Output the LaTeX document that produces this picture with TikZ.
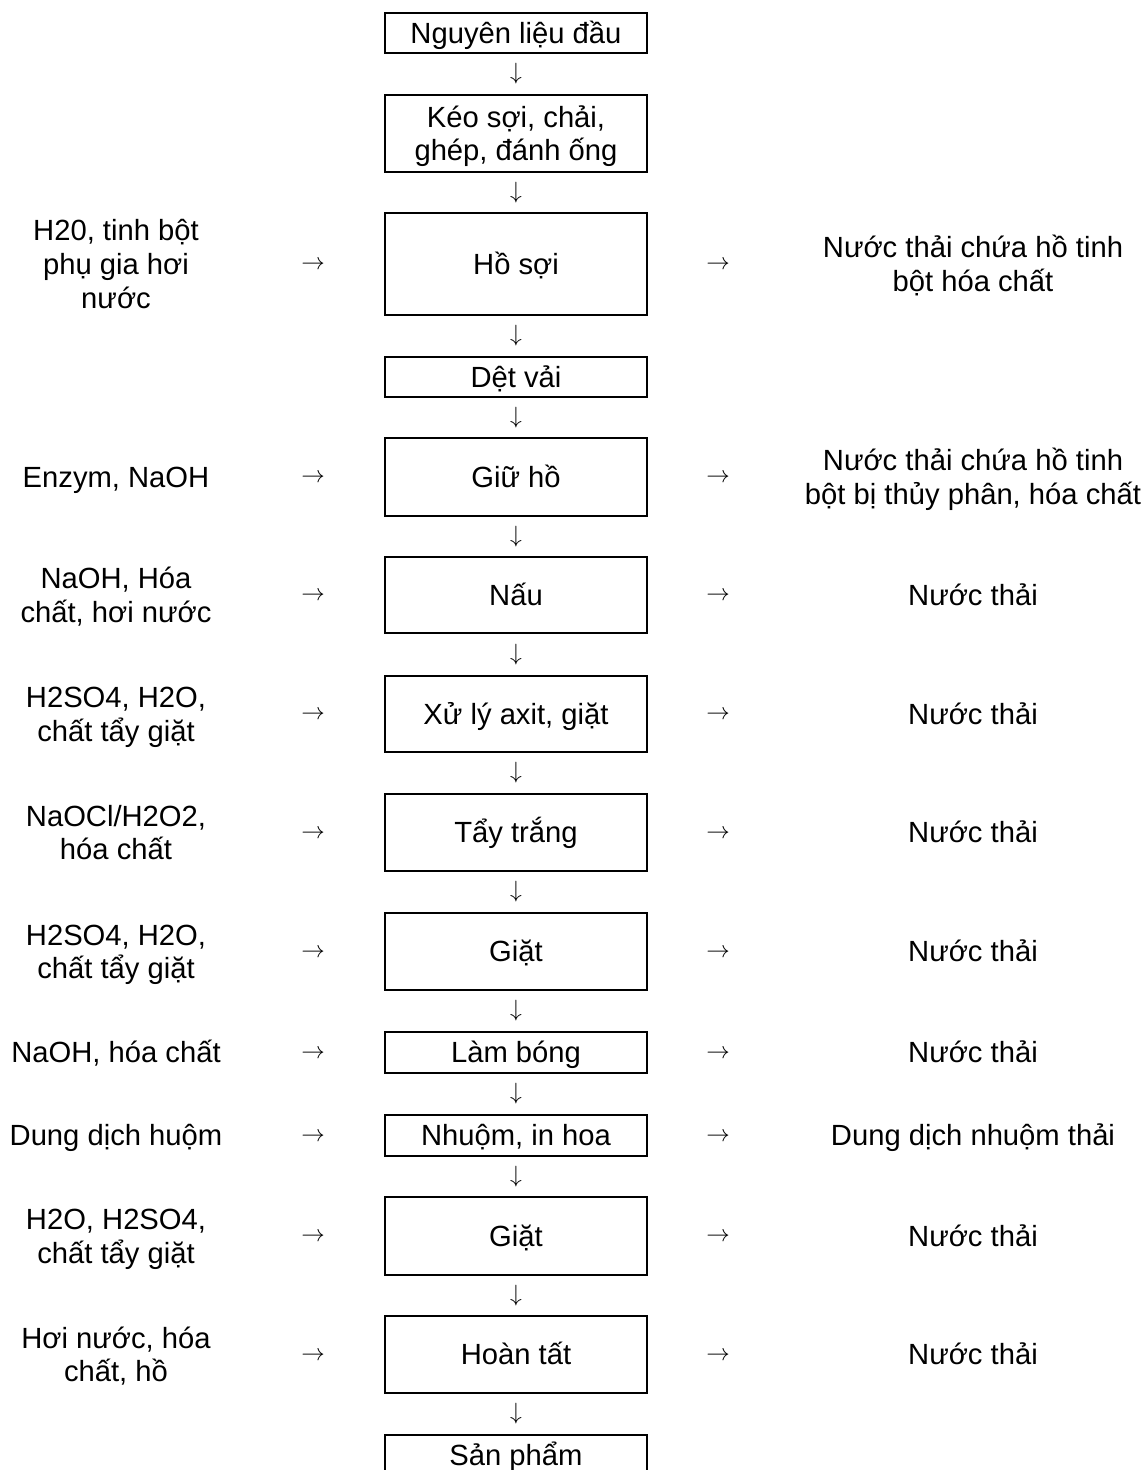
\documentclass[tikz,border=0pt]{standalone}
\usepackage{graphicx}
\usepackage{fontspec}
\setmainfont{Liberation Sans}
\usetikzlibrary{calc}

% thin math arrows, scaled up from the 10pt math fonts
\newcommand{\flowdownglyph}{\scalebox{2.35}{$\downarrow$}}
\newcommand{\flowsideglyph}{\scalebox{2.35}{$\rightarrow$}}

\begin{document}
\begin{tikzpicture}[x=1pt,y=-1pt,
  every node/.style={font=\fontsize{29.2}{33.6}\selectfont, inner sep=0pt},
  % text height = cap height + (lines-1) * baselineskip, so caps sit centred
  oneline/.style={text height=20.9pt, text depth=0pt},
  twolines/.style={text height=54.5pt, text depth=0pt},
  threelines/.style={text height=88.1pt, text depth=0pt},
  stage/.style={draw, line width=1.6pt, minimum width=262pt, align=center, oneline},
  feed/.style={align=center, oneline},
  flowdown/.style={font=\normalsize},
  flowside/.style={font=\normalsize, text height=11.75pt, text depth=0pt}]

\useasboundingbox (0,0) rectangle (1148,1470);
\clip (0,0) rectangle (1148,1470);

% column positions
\coordinate (inX) at (116,0);
\coordinate (inA) at (313,0);
\coordinate (outA) at (718,0);
\coordinate (outX) at (973,0);

% process stages
\node[stage, minimum height=40pt]  (s1)  at (516,33)     {Nguyên liệu đầu};
\node[stage, twolines, minimum height=77pt] (s2) at (516,133.5) {Kéo sợi, chải,\\ghép, đánh ống};
\node[stage, minimum height=102pt] (s3)  at (516,264)    {Hồ sợi};
\node[stage, minimum height=40pt]  (s4)  at (516,377)    {Dệt vải};
\node[stage, minimum height=78pt]  (s5)  at (516,477)    {Giữ hồ};
\node[stage, minimum height=76pt]  (s6)  at (516,595)    {Nấu};
\node[stage, minimum height=76pt]  (s7)  at (516,714)    {Xử lý axit, giặt};
\node[stage, minimum height=77pt]  (s8)  at (516,832.5)  {Tẩy trắng};
\node[stage, minimum height=77pt]  (s9)  at (516,951.5)  {Giặt};
\node[stage, minimum height=41pt]  (s10) at (516,1052.5) {Làm bóng};
\node[stage, minimum height=41pt]  (s11) at (516,1135.5) {Nhuộm, in hoa};
\node[stage, minimum height=78pt]  (s12) at (516,1236)   {Giặt};
\node[stage, minimum height=77pt]  (s13) at (516,1354.5) {Hoàn tất};
\node[stage, minimum height=41pt]  (s14) at (516,1455.5) {Sản phẩm};

% downward arrows between consecutive stages
\foreach \a/\b in {s1/s2,s2/s3,s3/s4,s4/s5,s5/s6,s6/s7,s7/s8,s8/s9,s9/s10,s10/s11,s11/s12,s12/s13,s13/s14}
  \node[flowdown] (d\a) at ($(\a.south)!0.5!(\b.north)$) {\flowdownglyph};

% inputs (left) and outputs (right)
\foreach \s/\ni/\inp/\no/\outp in {
  s3/threelines/{H20, tinh bột\\phụ gia hơi\\nước}/twolines/{Nước thải chứa hồ tinh\\bột hóa chất},
  s5/oneline/{Enzym, NaOH}/twolines/{Nước thải chứa hồ tinh\\bột bị thủy phân, hóa chất},
  s6/twolines/{NaOH, Hóa\\chất, hơi nước}/oneline/{Nước thải},
  s7/twolines/{H2SO4, H2O,\\chất tẩy giặt}/oneline/{Nước thải},
  s8/twolines/{NaOCl/H2O2,\\hóa chất}/oneline/{Nước thải},
  s9/twolines/{H2SO4, H2O,\\chất tẩy giặt}/oneline/{Nước thải},
  s10/oneline/{NaOH, hóa chất}/oneline/{Nước thải},
  s11/oneline/{Dung dịch huộm}/oneline/{Dung dịch nhuộm thải},
  s12/twolines/{H2O, H2SO4,\\chất tẩy giặt}/oneline/{Nước thải},
  s13/twolines/{Hơi nước, hóa\\chất, hồ}/oneline/{Nước thải}} {
  \node[feed, \ni] (i\s) at (inX |- \s) {\inp};
  \node[flowside] (ia\s) at (inA |- \s) {\flowsideglyph};
  \node[flowside] (oa\s) at (outA |- \s) {\flowsideglyph};
  \node[feed, \no] (o\s) at (outX |- \s) {\outp};
}
\end{tikzpicture}
\end{document}
